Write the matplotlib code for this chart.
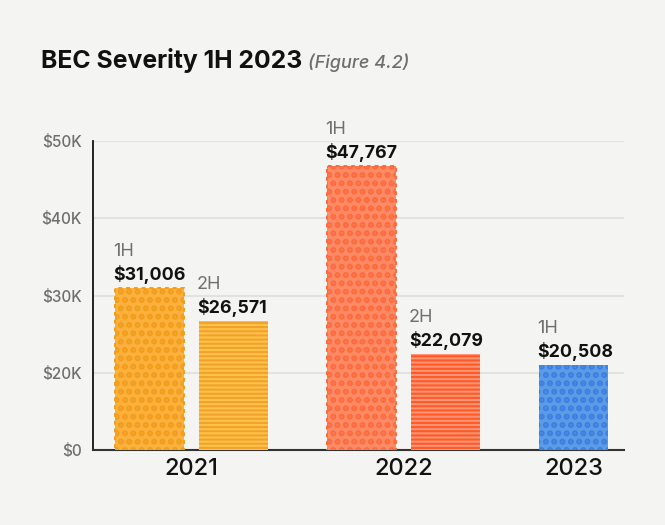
import matplotlib
matplotlib.use('Agg')
import matplotlib.pyplot as plt
import numpy as np

# DATA
years = ['2021', '2022', '2023']
halves = [['1H', '2H'], ['1H', '2H'], ['1H']]
values = [[31006, 26571], [47767, 22079], [20508]]
ytick_labels = ['$0', '$20K', '$30K', '$40K', '$50K']

# COLOURS (base, pattern) PER YEAR AND HALF
base_colors = {'2021': ['#fbb13c', '#ffc24a'], '2022': ['#ff8a66', '#ff9477'], '2023': ['#5b9be8']}
pattern_colors = {'2021': ['#f29c1c', '#f2a22a'], '2022': ['#ff6a3c', '#ff5a26'], '2023': ['#3b7ee0']}
dashed_edge = {'2021': True, '2022': True, '2023': False}

BG = '#f4f4f2'
plt.rcParams['font.family'] = ['Inter', 'DejaVu Sans']

fig = plt.figure(figsize=(6.65, 5.25), dpi=100, facecolor=BG)
ax = fig.add_axes([93 / 665, 75 / 525, 531 / 665, 309 / 525])
ax.set_facecolor(BG)

# BAR LAYOUT (width 1, small gap inside a year, bigger gap between years)
width = 1.0
inner_gap = 0.217
group_gap = 0.855
x = 0.319
group_centers = []
for yr, hs, vals in zip(years, halves, values):
    start = x
    for i, (h, v) in enumerate(zip(hs, vals)):
        is_dots = (h == '1H')
        hatch = '..' if is_dots else '----'
        hlw = 3.0 if is_dots else 1.5
        edge_on = is_dots and dashed_edge[yr]
        with plt.rc_context({'hatch.linewidth': hlw}):
            bar = ax.bar(x, v, width=width, align='edge',
                         color=base_colors[yr][i], edgecolor=pattern_colors[yr][i],
                         linewidth=1.4 if edge_on else 0,
                         linestyle=(0, (2, 2)) if edge_on else '-',
                         hatch=hatch, zorder=3)[0]
            try:
                bar.set_hatch_linewidth(hlw)
            except AttributeError:
                pass
        # value and half labels above the bar
        ax.annotate(f'${v:,}', xy=(x, v), xytext=(-2, 8), textcoords='offset pixels',
                    ha='left', va='baseline', fontsize=12.8, fontweight='bold', color='#111111')
        ax.annotate(h, xy=(x, v), xytext=(-2, 32), textcoords='offset pixels',
                    ha='left', va='baseline', fontsize=13, color='#707070')
        x += width + inner_gap
    x -= inner_gap
    group_centers.append((start + x) / 2)
    x += group_gap

# AXES
ylo, yhi = 8900, 51150
ax.set_ylim(ylo, yhi)
ax.set_xlim(0, 7.696)
ax.set_yticks(np.linspace(ylo, yhi, len(ytick_labels)))
ax.set_yticklabels(ytick_labels)
ax.set_xticks(group_centers)
ax.set_xticklabels(years)
ax.tick_params(axis='y', length=0, pad=8, labelsize=11, labelcolor='#6e6e6e')
ax.tick_params(axis='x', length=0, pad=6, labelsize=17, labelcolor='#111111')
for lbl in ax.get_yticklabels():
    lbl.set_fontweight('medium')
for lbl in ax.get_xticklabels():
    lbl.set_fontweight('medium')
ax.yaxis.grid(True, color='#e2e2e0', linewidth=1.5, zorder=0)
ax.set_axisbelow(True)
for s in ['top', 'right']:
    ax.spines[s].set_visible(False)
ax.spines['left'].set_color('#111111')
ax.spines['left'].set_linewidth(1.3)
ax.spines['bottom'].set_color('#333333')
ax.spines['bottom'].set_linewidth(1.5)

# TITLE
t = fig.text(41 / 665, 1 - 68 / 525, 'BEC Severity 1H 2023', fontsize=17.8,
             fontweight='bold', color='#111111', ha='left', va='baseline')
fig.canvas.draw()
bb = t.get_window_extent()
fig.text((bb.x1 + 6) / 665, 1 - 68 / 525, '(Figure 4.2)', fontsize=13,
         style='italic', fontweight='medium', color='#6e6e6e', ha='left', va='baseline')

fig.savefig('out.png', dpi=100, facecolor=BG)
